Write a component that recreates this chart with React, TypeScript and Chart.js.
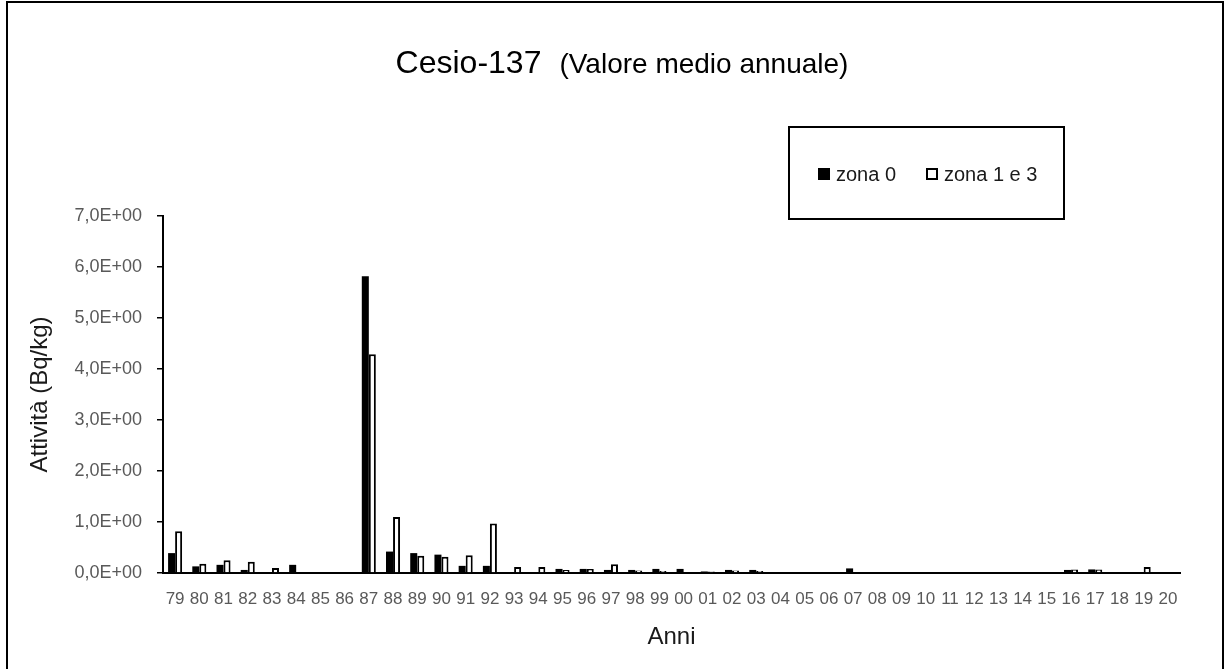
import React, { useEffect, useRef } from "react";
import { Chart, registerables } from "chart.js";

Chart.register(...registerables);

const years: string[] = [
  "79", "80", "81", "82", "83", "84", "85", "86", "87", "88", "89", "90", "91", "92",
  "93", "94", "95", "96", "97", "98", "99", "00", "01", "02", "03", "04", "05", "06",
  "07", "08", "09", "10", "11", "12", "13", "14", "15", "16", "17", "18", "19", "20",
];

const zona0: (number | null)[] = [
  0.39, 0.13, 0.16, 0.06, null, 0.16, null, null, 5.82, 0.42, 0.39, 0.36, 0.14, 0.14,
  null, null, 0.08, 0.08, 0.06, 0.06, 0.08, 0.08, 0.03, 0.06, 0.06, null, null, null,
  0.09, null, null, null, null, null, null, null, null, 0.06, 0.07, null, null, null,
];

const zona13: (number | null)[] = [
  0.82, 0.18, 0.25, 0.22, 0.1, null, null, null, 4.29, 1.1, 0.34, 0.32, 0.35, 0.97,
  0.12, 0.12, 0.06, 0.08, 0.17, 0.05, 0.04, null, 0.03, 0.05, 0.04, null, null, null,
  null, null, null, null, null, null, null, null, null, 0.07, 0.07, null, 0.12, null,
];

const seriesNames: string[] = ["zona 0", "zona 1 e 3"];
const titleMain = "Cesio-137";
const titleSub = "(Valore medio annuale)";
const yTitle = "Attività (Bq/kg)";
const xTitle = "Anni";
const yMax = 7;

const FONT = "'Liberation Sans', Arial, sans-serif";

const decorPlugin = {
  id: "decor",
  afterDraw(chart: any) {
    const ctx = chart.ctx as CanvasRenderingContext2D;
    ctx.save();
    // Title
    ctx.fillStyle = "#000";
    ctx.textBaseline = "alphabetic";
    ctx.textAlign = "left";
    ctx.font = `32px ${FONT}`;
    const w1 = ctx.measureText(titleMain).width;
    ctx.font = `28px ${FONT}`;
    const w2 = ctx.measureText(titleSub).width;
    const gap = 18;
    const total = w1 + gap + w2;
    const cx = 622;
    let x = cx - total / 2;
    ctx.font = `32px ${FONT}`;
    ctx.fillText(titleMain, x, 73);
    x += w1 + gap;
    ctx.font = `28px ${FONT}`;
    ctx.fillText(titleSub, x, 73);

    // Legend box
    ctx.strokeStyle = "#000";
    ctx.lineWidth = 2;
    ctx.strokeRect(789, 127, 275, 92);
    const ds = chart.data.datasets;
    ctx.font = `20px ${FONT}`;
    ctx.textBaseline = "middle";
    ctx.fillStyle = "#000";
    ctx.fillRect(818, 168, 12, 12);
    ctx.fillStyle = "#1a1a1a";
    ctx.fillText(ds[0].label, 836, 175);
    ctx.fillStyle = "#fff";
    ctx.fillRect(926, 168, 12, 12);
    ctx.lineWidth = 2;
    ctx.strokeStyle = "#000";
    ctx.strokeRect(927, 169, 10, 10);
    ctx.fillStyle = "#1a1a1a";
    ctx.fillText(ds[1].label, 944, 175);
    ctx.restore();
  },
};

export default function App() {
  const ref = useRef<HTMLCanvasElement | null>(null);

  useEffect(() => {
    if (!ref.current) return;
    const chart = new Chart(ref.current, {
      type: "bar",
      data: {
        labels: years,
        datasets: [
          {
            label: seriesNames[0],
            data: zona0,
            backgroundColor: "#000",
            borderColor: "#000",
            borderWidth: 0,
            categoryPercentage: 0.58,
            barPercentage: 1,
          },
          {
            label: seriesNames[1],
            data: zona13,
            backgroundColor: "#fff",
            borderColor: "#000",
            borderWidth: 2,
            categoryPercentage: 0.58,
            barPercentage: 1,
          },
        ],
      },
      options: {
        responsive: false,
        animation: false,
        devicePixelRatio: 1,
        layout: { padding: { left: 0, right: 46, top: 216, bottom: 0 } },
        plugins: {
          legend: { display: false },
          title: { display: false },
          tooltip: { enabled: false },
        },
        scales: {
          x: {
            grid: { display: false, drawTicks: false },
            border: { display: true, color: "#000", width: 2 },
            ticks: {
              color: "#595959",
              font: { family: FONT, size: 17 },
              padding: 16,
              maxRotation: 0,
              autoSkip: false,
            },
            title: {
              display: true,
              text: xTitle,
              color: "#1a1a1a",
              font: { family: FONT, size: 24 },
              padding: { top: 4, bottom: 17 },
            },
            afterFit: (s: any) => {
              s.height = 96;
            },
          },
          y: {
            min: 0,
            max: yMax,
            grid: {
              display: true,
              drawOnChartArea: false,
              drawTicks: true,
              tickLength: 6,
              color: "#000",
              lineWidth: 1.5,
            },
            border: { display: true, color: "#000", width: 2 },
            ticks: {
              stepSize: 1,
              color: "#595959",
              font: { family: FONT, size: 18 },
              padding: 15,
              callback: (v: any) => Number(v).toFixed(1).replace(".", ",") + "E+00",
            },
            title: {
              display: true,
              text: yTitle,
              color: "#1a1a1a",
              font: { family: FONT, size: 24 },
              padding: { top: 26, bottom: 4 },
            },
            afterFit: (s: any) => {
              s.width = 163;
            },
          },
        },
      },
      plugins: [decorPlugin],
    });
    return () => chart.destroy();
  }, []);

  return (
    <div style={{ position: "absolute", left: 0, top: 0, width: 1226, height: 669, background: "#fff", overflow: "hidden" }}>
      <canvas ref={ref} width={1226} height={669} style={{ position: "absolute", left: 0, top: 0 }} />
      <div
        style={{
          position: "absolute",
          left: 6,
          top: 1,
          width: 1214,
          height: 700,
          border: "2px solid #000",
          pointerEvents: "none",
        }}
      />
    </div>
  );
}
